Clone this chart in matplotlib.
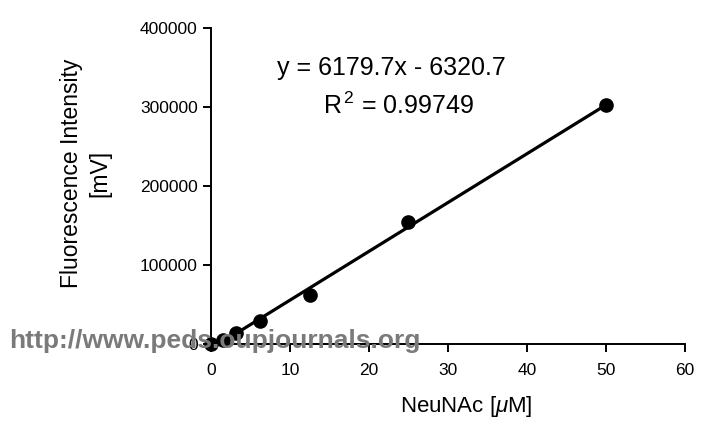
import matplotlib
matplotlib.use("Agg")
import matplotlib.pyplot as plt
import numpy as np

plt.rcParams["font.family"] = ["Liberation Sans", "DejaVu Sans"]
plt.rcParams["mathtext.fontset"] = "custom"
plt.rcParams["mathtext.rm"] = "Liberation Sans"
plt.rcParams["mathtext.it"] = "Liberation Sans:italic"

# data
conc = [0, 1.5625, 3.125, 6.25, 12.5, 25, 50]
fluor = [500, 5000, 14000, 28500, 62000, 154000, 302500]
slope, intercept = 6179.7, -6320.7
fit_x = [3.125, 50]

xticks = [0, 10, 20, 30, 40, 50, 60]
yticks = [0, 100000, 200000, 300000, 400000]

fig = plt.figure(figsize=(7.04, 4.23), dpi=100)
ax = fig.add_axes([0.2997, 0.1868, 0.6733, 0.747])

fx = np.array(fit_x)
ax.plot(fx, slope * fx + intercept, color="black", lw=2.3, zorder=2)
ax.plot(conc, fluor, "o", color="black", ms=9.5, zorder=3, clip_on=False)

ax.set_xlim(0, 60)
ax.set_ylim(0, 400000)
ax.set_xticks(xticks)
ax.set_yticks(yticks)
ax.set_yticklabels([str(v) for v in yticks])
for s in ("top", "right"):
    ax.spines[s].set_visible(False)
for s in ("left", "bottom"):
    ax.spines[s].set_linewidth(1.4)
ax.tick_params(direction="out", length=5.5, width=1.4, labelsize=12.5)
ax.tick_params(axis="x", pad=8)
ax.tick_params(axis="y", pad=4)

# axis titles placed as in the reference
fig.text(466 / 704, 1 - 406 / 423, r"NeuNAc [$\mu$M]", fontsize=16,
         ha="center", va="center")
fig.text(86 / 704, 1 - 173 / 423, "Fluorescence Intensity\n[mV]",
         fontsize=16.5, rotation=90, ha="center", va="center",
         multialignment="center", linespacing=1.3)

ax.text(0.38, 0.873, "y = 6179.7x - 6320.7", transform=ax.transAxes,
        fontsize=18, ha="center", va="center")
ax.text(0.395, 0.753, r"R$^{\,2}$ = 0.99749", transform=ax.transAxes,
        fontsize=18, ha="center", va="center")

# watermark over the plot
fig.text(9 / 704, 1 - 348 / 423, "http://www.peds.oupjournals.org",
         fontsize=19, fontweight="bold", color="#7a7a7a", va="baseline",
         ha="left", zorder=10)

fig.savefig("out.png", dpi=100, facecolor="white")
